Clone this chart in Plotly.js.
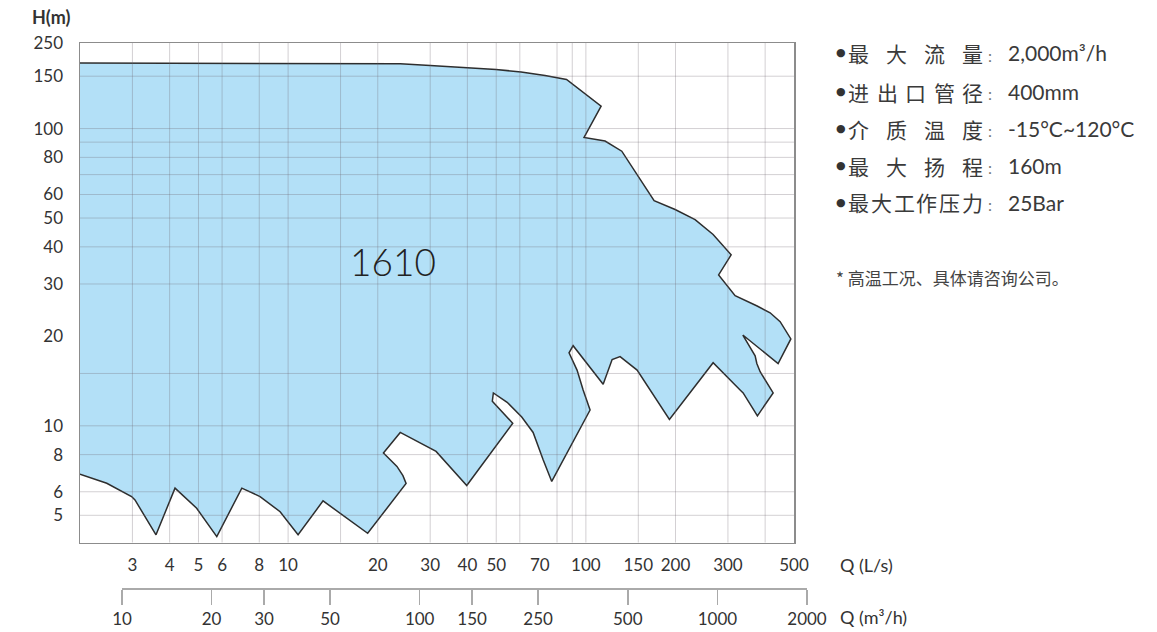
<!DOCTYPE html>
<html>
<head>
<meta charset="utf-8">
<script src="https://cdn.plot.ly/plotly-3.0.1.min.js"></script>
<style>html,body{margin:0;padding:0;background:#fff;}#chart{width:1157px;height:632px;}</style>
</head>
<body>
<div id="chart"></div>
<script>
// ---- data ----
const envelopeQ = [2.0, 18.5, 23.8, 30.0, 40.2, 49.9, 60.6, 72.9, 86.1, 112.5, 98.6, 116.0, 132.0, 169.5, 199.4, 232.7, 267.5, 307.5, 279.1, 317.1, 376.0, 415.7, 449.2, 488.0, 442.2, 336.6, 370.2, 375.1, 384.8, 425.5, 376.8, 337.4, 329.6, 267.5, 190.8, 164.3, 148.6, 130.3, 122.5, 114.3, 90.6, 87.8, 93.4, 97.9, 103.3, 76.8, 71.8, 66.5, 60.9, 54.4, 48.9, 48.5, 56.8, 39.8, 31.4, 23.8, 20.9, 23.2, 24.3, 24.9, 18.5, 13.1, 10.8, 9.4, 8.05, 6.99, 5.76, 4.93, 4.17, 3.60, 3.06, 2.98, 2.46, 2.0];
const envelopeH = [166, 166, 165.2, 163.0, 160.5, 158.0, 155.0, 150.8, 146.2, 119.0, 93.3, 90.8, 83.9, 57.2, 53.4, 49.4, 44.0, 37.6, 32.2, 27.4, 25.3, 24.0, 22.4, 19.6, 16.2, 20.2, 17.2, 16.2, 15.2, 12.9, 10.8, 12.9, 13.2, 16.3, 10.5, 13.2, 15.4, 17.1, 16.7, 13.8, 18.6, 17.6, 15.4, 13.2, 11.3, 6.5, 7.7, 9.5, 10.7, 12.0, 12.9, 12.1, 10.2, 6.3, 8.2, 9.5, 8.1, 7.3, 6.8, 6.4, 4.35, 5.59, 4.30, 5.14, 5.78, 6.17, 4.24, 5.28, 6.17, 4.30, 5.63, 5.78, 6.41, 6.88];
const modelName = '1610';
const modelQ = [22.5];
const modelH = [34.3];

const qTickVals = [3, 4, 5, 6, 8, 10, 20, 30, 40, 50, 70, 100, 150, 200, 300, 500];
const qGrid = [3, 4, 5, 6, 8, 10, 15, 20, 30, 40, 50, 60, 80, 90, 100, 150, 200, 300, 400];
const hTickVals = [194, 150, 100, 80, 60, 50, 40, 30, 20, 10, 8, 6, 5];
const hTickText = ['250', '150', '100', '80', '60', '50', '40', '30', '20', '10', '8', '6', '5'];
const hGrid = [150, 100, 90, 80, 70, 60, 50, 40, 30, 15, 10, 8, 6, 5];
const m3hTickVals = [10, 20, 30, 50, 100, 150, 250, 500, 1000, 2000];

const specLabels = ['最大流量', '进出口管径', '介质温度', '最大扬程', '最大工作压力'];
const specValues = ['2,000m³/h', '400mm', '-15°C~120°C', '160m', '25Bar'];
const footnote = '* 高温工况、具体请咨询公司。';

// ---- layout helpers ----
const W = 1157, H = 632;
const ML = 80, MR = 337, MT = 43, MB = 32;
const PW = W - ML - MR, PH = H - MT - MB;
const px = v => (v - ML) / PW;
const py = v => (H - MB - v) / PH;

const TICK_FONT = {family: 'Lato, "Noto Sans", sans-serif', size: 17, color: '#333'};
const CJK = '"Noto Sans CJK SC", "Noto Sans", sans-serif';

const annotations = [];
function addText(x, y, text, font, xanchor) {
  annotations.push({xref: 'paper', yref: 'paper', x: px(x), y: py(y), text: text,
    showarrow: false, xanchor: xanchor || 'center', yanchor: 'middle', font: font});
}

addText(51, 17, '<b>H(m)</b>', {family: 'Lato, sans-serif', size: 18, color: '#333'});
addText(838, 565, 'Q (L/s)', {family: 'Lato, sans-serif', size: 18, color: '#333'}, 'left');
addText(838, 617, 'Q (m³/h)', {family: 'Lato, sans-serif', size: 18, color: '#333'}, 'left');

const lineY = [53, 91.5, 128.5, 165.5, 202.5];
const labelL = 848, labelR = 983, cjkSize = 21;
specLabels.forEach((lab, i) => {
  const chars = Array.from(lab);
  const n = chars.length;
  addText(841, lineY[i], '●', {family: 'DejaVu Sans, sans-serif', size: 11, color: '#333'});
  chars.forEach((c, j) => {
    const cx = labelL + cjkSize / 2 + j * (labelR - labelL - cjkSize) / (n - 1);
    addText(cx, lineY[i], c, {family: CJK, size: cjkSize, color: '#3a3a3a'});
  });
  addText(990, lineY[i] + 2, ':', {family: 'Lato, sans-serif', size: 16, color: '#777'});
  addText(1006, lineY[i], specValues[i], {family: 'Lato, sans-serif', size: 21, color: '#3a3a3a'}, 'left');
});
addText(834, 277, footnote, {family: CJK, size: 17, color: '#444'}, 'left');

const shapes = [];
qGrid.forEach(v => shapes.push({type: 'line', xref: 'x', yref: 'y domain', x0: v, x1: v, y0: 0, y1: 1,
  layer: 'above', line: {color: 'rgba(110,100,110,0.3)', width: 1}}));
hGrid.forEach(v => shapes.push({type: 'line', xref: 'x domain', yref: 'y', x0: 0, x1: 1, y0: v, y1: v,
  layer: 'above', line: {color: 'rgba(110,100,110,0.3)', width: 1}}));

const traces = [{
  type: 'scatter', mode: 'lines', x: envelopeQ, y: envelopeH,
  fill: 'toself', fillcolor: '#b3e0f7',
  line: {color: '#2e2e2e', width: 1.5},
  hoverinfo: 'skip', showlegend: false
}, {
  type: 'scatter', mode: 'text', x: modelQ, y: modelH, text: [modelName],
  textfont: {family: 'Lato, sans-serif', size: 37, color: '#222', weight: 300},
  hoverinfo: 'skip', showlegend: false
}, {
  // carrier for the m³/h axis (no visible marks)
  type: 'scatter', mode: 'markers', x: m3hTickVals, y: m3hTickVals.map(() => null),
  xaxis: 'x2', yaxis: 'y2', marker: {opacity: 0}, hoverinfo: 'skip', showlegend: false
}];

const layout = {
  width: W, height: H,
  margin: {l: ML, r: MR, t: MT, b: MB, pad: 0},
  paper_bgcolor: '#fff', plot_bgcolor: 'rgba(0,0,0,0)',
  showlegend: false,
  xaxis: {
    type: 'log', domain: [0, 714 / PW], range: [Math.log10(2), Math.log10(500)],
    tickmode: 'array', tickvals: qTickVals, ticktext: qTickVals.map(String),
    showgrid: false, zeroline: false, ticks: '', ticklabelstandoff: 7,
    showline: true, mirror: true, linecolor: '#8c8c8c', linewidth: 1.5,
    tickfont: TICK_FONT, anchor: 'y', fixedrange: true
  },
  yaxis: {
    type: 'log', domain: [(H - MB - 542.5) / PH, 1], range: [Math.log10(4.05), Math.log10(194)],
    tickmode: 'array', tickvals: hTickVals, ticktext: hTickText,
    showgrid: false, zeroline: false, ticks: '', ticklabelstandoff: 12,
    showline: true, mirror: true, linecolor: '#8c8c8c', linewidth: 1.5,
    tickfont: TICK_FONT, fixedrange: true
  },
  xaxis2: {
    type: 'log', domain: [42 / PW, 727 / PW], range: [1, Math.log10(2000)],
    anchor: 'free', position: (H - MB - 588) / PH, side: 'bottom',
    tickmode: 'array', tickvals: m3hTickVals, ticktext: m3hTickVals.map(String),
    showgrid: false, zeroline: false, ticks: 'outside', ticklen: 15, tickwidth: 1.5, tickcolor: '#aaa',
    showline: true, linecolor: '#aaa', linewidth: 1.5,
    tickfont: TICK_FONT, fixedrange: true
  },
  yaxis2: {
    overlaying: 'y', visible: false, type: 'log', range: [Math.log10(4.05), Math.log10(194)], fixedrange: true
  },
  shapes: shapes,
  annotations: annotations
};

Plotly.newPlot('chart', traces, layout, {displayModeBar: false, staticPlot: true});
</script>
</body>
</html>
